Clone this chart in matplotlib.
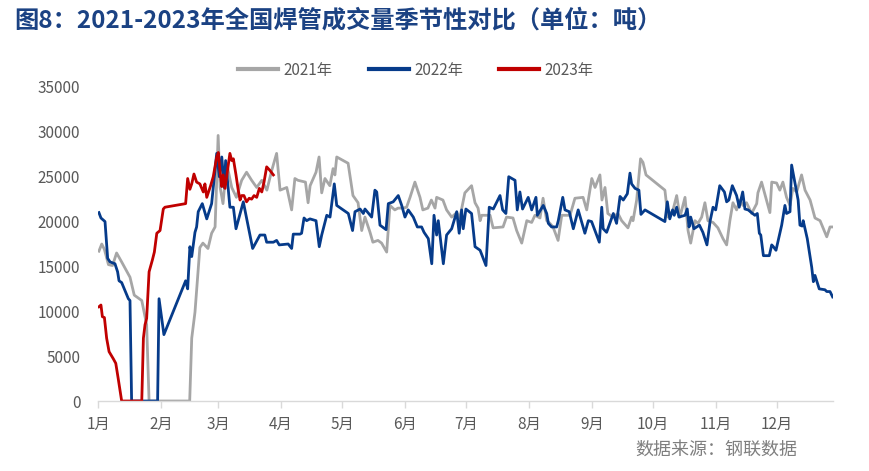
import matplotlib
matplotlib.use("Agg")
import matplotlib.pyplot as plt

plt.rcParams['font.family'] = ['Noto Sans CJK SC', 'DejaVu Sans']

# ---------------- data (day of year, tonnes) ----------------
month_starts = [0, 31, 59, 90, 120, 151, 181, 212, 243, 273, 304, 334]
month_labels = ['1月', '2月', '3月', '4月', '5月', '6月', '7月', '8月', '9月', '10月', '11月', '12月']
y_ticks = [0, 5000, 10000, 15000, 20000, 25000, 30000, 35000]

d21 = [0.3, 1.7, 3, 5, 7, 9, 11.5, 15.6, 17.7, 21.4,
       23.8, 25, 45, 46, 47.6, 50, 51.5, 54, 55.8, 57.5,
       58.3, 59, 60, 61.4, 63.2, 65.7, 68, 70.6, 73, 75.5,
       78, 80.5, 83, 85.4, 87.8, 89.5, 92.8, 95.2, 96.8, 98.3,
       102, 103.3, 104.3, 107.2, 108.7, 110, 111.6, 114, 115.6, 116.5,
       117.4, 123, 125.4, 127.9, 129.7, 131.3, 133.8, 135.2, 137.7, 139.5,
       142, 143.6, 146, 147.6, 150, 151.8, 153.5, 155.9, 158.4, 159.8,
       162.3, 164, 165.8, 166.6, 169.7, 171.5, 174, 176.5, 178, 180.5,
       183.8, 185.5, 187, 188, 188.8, 192.9, 194.4, 199.3, 201, 204.2,
       206, 208.5, 211, 213.4, 215, 217.5, 219, 220.8, 222.4, 223.9,
       226.4, 228.2, 232.3, 234.7, 238.7, 240.5, 243, 244.6, 247, 248,
       249.5, 250.9, 253.4, 255.9, 257.7, 260.8, 262.6, 263.3, 265.1, 267,
       268.2, 269.7, 279, 280.5, 283, 284.8, 286.4, 288.9, 290.4, 291.7,
       293.8, 295.3, 297.1, 298.7, 300.2, 302.7, 305.1, 307.6, 309.4, 311,
       312.5, 314.3, 315.9, 317.4, 319.2, 321.7, 324.2, 324.8, 326.6, 329,
       330.7, 331.6, 334, 335.6, 337.1, 338.9, 340.6, 342, 343.9, 346.3,
       348, 350.5, 352.9, 355.4, 358.7, 360.3, 361.7]
v21 = [16700, 17500, 16900, 15200, 15100, 16500, 15500, 13800, 11800, 11200,
       8500, 0, 0, 7000, 9900, 17100, 17600, 17000, 18700, 19400,
       24600, 29600, 23800, 22000, 26500, 23800, 22700, 24600, 25500, 24600,
       23800, 24600, 23500, 25700, 27600, 23500, 23800, 21300, 24800, 24600,
       24400, 22100, 24000, 25500, 27200, 23200, 24800, 24000, 25900, 25200,
       27200, 26500, 22900, 22100, 19000, 20500, 18800, 17700, 17900, 17600,
       16600, 21800, 21300, 21500, 21500, 21600, 22700, 24400, 22700, 21300,
       21500, 22400, 21500, 22700, 22400, 21300, 20500, 21000, 20400, 23200,
       24000, 22100, 21500, 20100, 20700, 20700, 19300, 19400, 20500, 20400,
       19000, 17600, 20100, 19900, 20700, 20400, 22600, 20100, 19800, 19400,
       17900, 20700, 20700, 22600, 22700, 21300, 24800, 23800, 25200, 22400,
       23800, 20900, 20500, 20900, 20100, 19300, 20500, 20100, 22400, 27000,
       26600, 25200, 23500, 20500, 21300, 22900, 20500, 22700, 19000, 17600,
       20100, 19800, 20500, 22100, 20100, 19900, 19300, 18100, 17400, 20100,
       22100, 21300, 22400, 21800, 22100, 20900, 22000, 23200, 24400, 22400,
       21000, 24400, 24300, 23500, 24400, 22700, 21800, 23700, 23300, 25200,
       23500, 22400, 20400, 20100, 18300, 19400, 19400]

d22 = [0.3, 1.3, 3.3, 4.6, 5.8, 8.2, 9.5, 10.2, 11.5, 14.8,
       15.6, 16.4, 29.2, 29.9, 32.3, 43, 44, 45.1, 46, 47.6,
       48.4, 49.2, 51.2, 53.4, 55.8, 58.3, 59.6, 60.8, 62, 62.7,
       64.8, 66.5, 67.8, 71.4, 76, 79.6, 82, 82.9, 86.2, 87.8,
       89.1, 93.5, 95.2, 96, 99.3, 100.1, 101.3, 102.6, 104.2, 107.2,
       108.8, 110, 112.5, 114.1, 116.2, 117.4, 123.1, 125.2, 126.4, 128.9,
       130.5, 131.3, 134.6, 136.2, 137.1, 138.7, 141.7, 142.8, 145.2, 147.7,
       149.4, 151, 152.6, 155.1, 157.1, 159.2, 160.4, 162.5, 164.2, 165.3,
       166.6, 167.4, 169.9, 171.5, 174, 176.5, 177.7, 178.9, 179.7, 181,
       183.8, 185.5, 188, 190.9, 192.5, 194.5, 197.8, 199.1, 200.7, 202.1,
       205.2, 206.3, 207.6, 208.9, 211.7, 213.4, 215.5, 216.2, 219.1, 220.8,
       221.6, 223.2, 225.7, 226.5, 228.7, 229.8, 231.9, 233.9, 236.3, 239.6,
       241.3, 242.9, 246.7, 247.9, 248.6, 250.3, 253.6, 255.2, 256.9, 258.5,
       260.5, 261.8, 262.6, 264.3, 266.2, 267.2, 269.2, 279, 280.2, 281.4,
       282.8, 283.6, 284.8, 285.9, 288.9, 290, 290.9, 291.7, 293.3, 296,
       297.7, 299.7, 301.3, 302.7, 304, 306, 308.3, 309.4, 310.5, 312.2,
       314.3, 315.6, 317.3, 318.4, 320, 323.3, 324.5, 325.5, 326.2, 327.5,
       330.4, 331.6, 332.4, 333.7, 336.5, 338.1, 338.9, 340.6, 341.4, 344.6,
       345.5, 346.6, 347.1, 349.1, 351.3, 352.1, 352.9, 355, 357.8, 358.7,
       360.3, 361.6]
v22 = [21000, 20400, 20000, 15900, 15500, 15300, 14400, 13400, 13200, 11400,
       11200, 0, 0, 11400, 7400, 13400, 12500, 17200, 16100, 18800,
       19400, 21100, 22000, 20300, 22000, 27600, 25000, 27200, 23800, 26800,
       21600, 21600, 19200, 22200, 17000, 18500, 18500, 17700, 17700, 17900,
       17400, 17500, 17000, 18600, 18600, 18700, 20400, 20100, 20300, 20100,
       17200, 18500, 20700, 20500, 24200, 21800, 20900, 19000, 21100, 21400,
       20900, 21400, 20500, 23500, 23300, 19600, 19100, 22000, 22200, 22900,
       21800, 20500, 21300, 20500, 19400, 19400, 18800, 18100, 15300, 20700,
       18500, 20100, 15300, 18500, 19200, 21100, 18700, 21300, 19200, 21400,
       20900, 17200, 16800, 15100, 21600, 21400, 22900, 21300, 20900, 25000,
       24600, 21300, 23300, 21400, 22700, 21300, 22700, 20700, 21800, 20900,
       19800, 19400, 19400, 20100, 22700, 21300, 21100, 19200, 21300, 18700,
       20100, 20000, 17700, 21600, 19200, 18800, 20900, 19800, 22800, 22400,
       23100, 25400, 24200, 23700, 23500, 20800, 21300, 20000, 22200, 20300,
       21300, 20700, 21600, 20500, 20700, 21400, 19400, 20500, 19200, 19600,
       18800, 17400, 20100, 21600, 21300, 24000, 23300, 22200, 22400, 24000,
       22900, 21600, 23300, 21400, 21300, 20700, 20900, 18700, 18500, 16200,
       16200, 17400, 17200, 16800, 19600, 21800, 20900, 21100, 26300, 22400,
       19600, 19500, 20100, 18100, 14900, 13300, 14000, 12500, 12400, 12200,
       12200, 11600]

d23 = [0.3, 1.3, 2, 3, 4.1, 5.3, 7.4, 8.6, 9.8, 11.5,
       21.4, 22.2, 23, 23.8, 25, 26.6, 27.6, 28.8, 30.4, 32,
       32.8, 43, 44, 45.1, 46, 47.1, 48.4, 50, 51.7, 52.5,
       53.4, 55.3, 56.6, 58.3, 59.1, 59.9, 60.8, 61.5, 62.4, 63.5,
       64.8, 65.7, 66.5, 67.8, 68.9, 69.8, 70.6, 71.7, 73, 74.3,
       75.5, 76.7, 78, 79.3, 80.5, 81.6, 82.9, 84.5, 86.2]
v23 = [10500, 10700, 9400, 9300, 7000, 5500, 4700, 4200, 2500, 0,
       0, 7000, 8500, 9200, 14400, 15700, 16600, 18700, 19000, 21400,
       21600, 22000, 24800, 23600, 24200, 25300, 24400, 24200, 23300, 24200,
       22700, 24000, 25000, 27200, 27700, 25700, 23900, 25200, 23700, 25500,
       27600, 26800, 27000, 25200, 23500, 22400, 22900, 22900, 22200, 22600,
       22500, 22900, 22700, 23700, 23300, 24400, 26100, 25700, 25200]

series_names = ['2021年', '2022年', '2023年']
colors = ['#A6A6A6', '#063B8A', '#C00000']

# ---------------- figure ----------------
fig = plt.figure(figsize=(8.70, 4.71), dpi=100)
ax = fig.add_axes([0.113, 0.1486, 0.845, 0.6667])

for d, v, name, c in zip([d21, d22, d23], [v21, v22, v23], series_names, colors):
    ax.plot(d, v, color=c, lw=2.0, label=name, solid_joinstyle='round')

ax.set_xlim(0, 362)
ax.set_ylim(0, 35000)
ax.set_yticks(y_ticks)
ax.set_yticklabels([str(t) for t in y_ticks])
ax.set_xticks(month_starts)
ax.set_xticklabels(month_labels)

for s in ['top', 'right', 'left']:
    ax.spines[s].set_visible(False)
ax.spines['bottom'].set_color('#D9D9D9')
ax.spines['bottom'].set_linewidth(1.0)
ax.tick_params(axis='y', length=0, pad=13, labelsize=11, labelcolor='#595959')
ax.tick_params(axis='x', length=5, width=1.0, color='#D9D9D9', pad=6,
               labelsize=11, labelcolor='#595959')

leg = fig.legend(loc='center', bbox_to_anchor=(0.478, 0.851), ncol=3, frameon=False,
                 fontsize=11, handlelength=2.6, handletextpad=0.35, columnspacing=2.4)
for t in leg.get_texts():
    t.set_color('#595959')
for h in leg.get_lines():
    h.set_linewidth(3.0)

fig.text(0.016, 0.957, '图8：2021-2023年全国焊管成交量季节性对比（单位：吨）',
         fontsize=17.5, fontweight='bold', color='#1B4283', ha='left', va='center')
fig.text(0.823, 0.045, '数据来源：钢联数据', fontsize=13, color='#7F7F7F',
         ha='center', va='center')

fig.savefig('out.png', dpi=100)
